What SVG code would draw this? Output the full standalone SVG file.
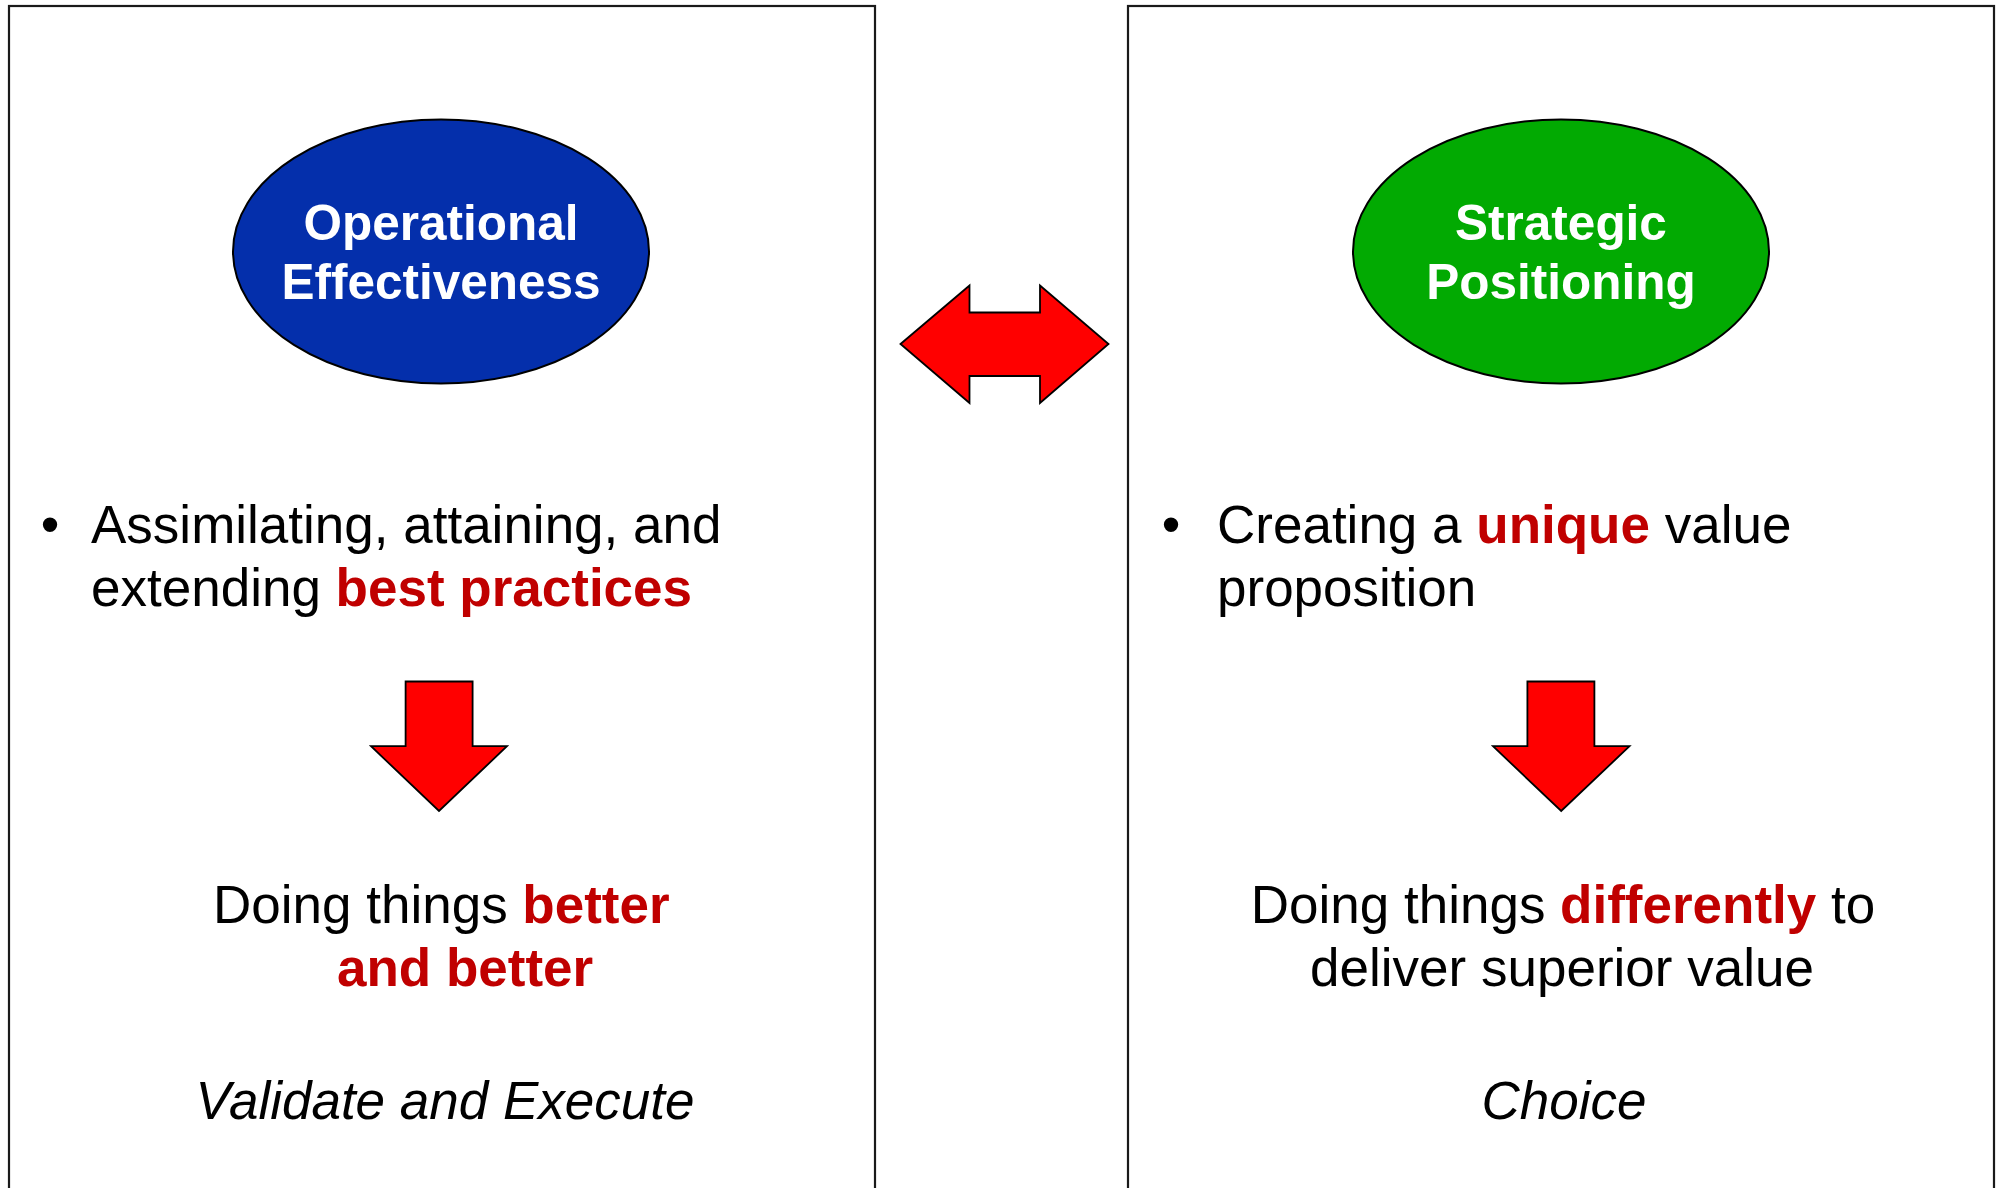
<svg xmlns="http://www.w3.org/2000/svg" width="1999" height="1188" viewBox="0 0 1999 1188">
<style>
.box{fill:#fff;stroke:#1a1a1a;stroke-width:2.2}
.ell{stroke:#000;stroke-width:2}
.arr{fill:#ff0000;stroke:#000;stroke-width:1.8;stroke-linejoin:miter}
.t{font-family:"Liberation Sans",Arial,sans-serif;font-size:53px;fill:#000}
.et{font-family:"Liberation Sans",Arial,sans-serif;font-size:49.5px;font-weight:bold;fill:#fff;text-anchor:middle}
.hl{font-weight:bold;fill:#c00000}
.it{font-style:italic}
</style>
<rect width="1999" height="1188" fill="#fff"/>
<g id="panel-left">
<rect class="box" x="9" y="6" width="866" height="1200"/>
</g>
<g id="panel-right">
<rect class="box" x="1128" y="6" width="866" height="1200"/>
</g>
<g id="node-operational">
<ellipse class="ell" cx="441" cy="251.5" rx="208" ry="132" fill="#042fab"/>
<text class="et" x="441" y="240">Operational</text>
<text class="et" x="441" y="299">Effectiveness</text>
</g>
<g id="node-strategic">
<ellipse class="ell" cx="1561" cy="251.5" rx="208" ry="132" fill="#02aa02"/>
<text class="et" x="1561" y="240">Strategic</text>
<text class="et" x="1561" y="299">Positioning</text>
</g>
<g id="text-left">
<text class="t" x="50" y="543" text-anchor="middle">•</text>
<text class="t" x="91" y="543">Assimilating, attaining, and</text>
<text class="t" x="91" y="606">extending <tspan class="hl">best practices</tspan></text>
<text class="t" x="213" y="922.5">Doing things <tspan class="hl">better</tspan></text>
<text class="t hl" x="337" y="986">and better</text>
<text class="t it" x="445" y="1118.5" text-anchor="middle">Validate and Execute</text>
</g>
<g id="text-right">
<text class="t" x="1171" y="543" text-anchor="middle">•</text>
<text class="t" x="1217" y="543">Creating a <tspan class="hl">unique</tspan> value</text>
<text class="t" x="1217" y="606">proposition</text>
<text class="t" x="1563" y="922.5" text-anchor="middle">Doing things <tspan class="hl">differently</tspan> to</text>
<text class="t" x="1562" y="986" text-anchor="middle">deliver superior value</text>
<text class="t it" x="1564" y="1118.5" text-anchor="middle">Choice</text>
</g>
<g id="connectors">
<polygon class="arr" points="900.5,344 969.5,285.5 969.5,312.5 1040,312.5 1040,285.5 1108.5,344 1040,403 1040,376 969.5,376 969.5,403"/>
<polygon class="arr" points="405.6,681.5 472.6,681.5 472.6,746.2 507,746.2 439,811 371,746.2 405.6,746.2"/>
<polygon class="arr" points="1527.4,681.5 1594.4,681.5 1594.4,746.2 1629.5,746.2 1561.2,811 1493,746.2 1527.4,746.2"/>
</g>
</svg>
